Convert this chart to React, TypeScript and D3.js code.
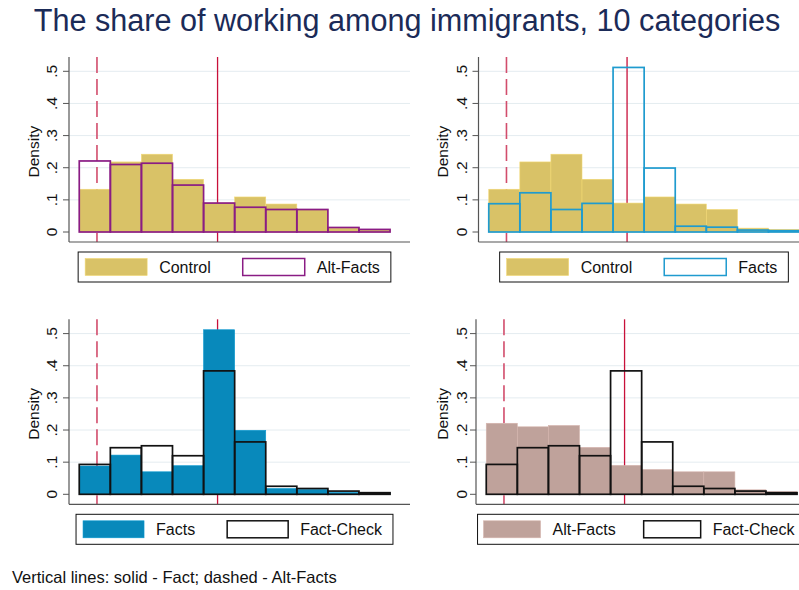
import React, { useEffect, useRef } from 'react'
import * as d3 from 'd3'

// categories 1..10, density per bin
const categories = [1, 2, 3, 4, 5, 6, 7, 8, 9, 10]
const control = [0.133, 0.218, 0.242, 0.164, 0.09, 0.109, 0.087, 0.07, 0.012, 0.008]
const altFacts = [0.221, 0.21, 0.214, 0.146, 0.09, 0.077, 0.07, 0.07, 0.014, 0.008]
const facts = [0.088, 0.122, 0.07, 0.089, 0.512, 0.199, 0.018, 0.015, 0.006, 0.004]
const factCheck = [0.093, 0.145, 0.151, 0.12, 0.384, 0.163, 0.025, 0.018, 0.01, 0.005]

const yTicks = [0, 0.1, 0.2, 0.3, 0.4, 0.5]
const yTickLabels = ['0', '.1', '.2', '.3', '.4', '.5']

const factLine = 4.95
const altFactLine = 1.07

const FONT = '"Liberation Sans", Arial, Helvetica, sans-serif'

const colors = {
  gold: '#d9c267',
  purple: '#8a1c84',
  blueLine: '#1f9bcf',
  blueFill: '#0889bb',
  brown: '#bfa29b',
  black: '#111111',
  red: '#c8103a',
  redDash: '#d24d6c',
  grid: '#e4ecf0',
  axis: '#555555',
}

interface PanelSpec {
  ax: number
  y0: number
  fillValues: number[]
  fillColor: string
  fillName: string
  lineValues: number[]
  lineColor: string
  lineName: string
  labelX: number
  sw: number // legend swatch width
  midGap: number // gap between legend keys
  pad: number
}

const panels: PanelSpec[] = [
  { ax: 69, y0: 232, fillValues: control, fillColor: colors.gold, fillName: 'Control', lineValues: altFacts, lineColor: colors.purple, lineName: 'Alt-Facts', labelX: 69, sw: 62, midGap: 32, pad: 7 },
  { ax: 478.5, y0: 232, fillValues: control, fillColor: colors.gold, fillName: 'Control', lineValues: facts, lineColor: colors.blueLine, lineName: 'Facts', labelX: 478.5, sw: 62, midGap: 32, pad: 7 },
  { ax: 69, y0: 494.3, fillValues: facts, fillColor: colors.blueFill, fillName: 'Facts', lineValues: factCheck, lineColor: colors.black, lineName: 'Fact-Check', labelX: 69, sw: 61, midGap: 32, pad: 7 },
  { ax: 476, y0: 494.3, fillValues: altFacts, fillColor: colors.brown, fillName: 'Alt-Facts', lineValues: factCheck, lineColor: colors.black, lineName: 'Fact-Check', labelX: 478.5, sw: 57, midGap: 28, pad: 6 },
]

export default function App() {
  const svgRef = useRef<SVGSVGElement>(null)

  useEffect(() => {
    if (!svgRef.current) return
    const svg = d3.select(svgRef.current)
    svg.selectAll('*').remove()

    svg.append('rect').attr('width', 799).attr('height', 590).attr('fill', '#fff')

    // Title
    svg.append('text')
      .attr('x', 407)
      .attr('y', 31)
      .attr('text-anchor', 'middle')
      .attr('fill', '#1b2b58')
      .style('font-family', FONT)
      .style('font-size', '30.6px')
      .text('The share of working among immigrants, 10 categories')

    const plotW = 331

    panels.forEach((p) => {
      const g = svg.append('g')
      const x = d3.scaleLinear().domain([0.17, 10.82]).range([p.ax, p.ax + plotW])
      const y = d3.scaleLinear().domain([0, 0.5]).range([p.y0, p.y0 - 160.7])
      const top = p.y0 - 175
      const bottom = p.y0 + 10

      // grid
      g.selectAll('line.grid')
        .data(yTicks.slice(1))
        .join('line')
        .attr('x1', p.ax)
        .attr('x2', p.ax + plotW + 10)
        .attr('y1', (d) => y(d))
        .attr('y2', (d) => y(d))
        .attr('stroke', colors.grid)
        .attr('stroke-width', 1)

      // vertical reference lines (drawn below bars)
      g.append('line')
        .attr('x1', x(altFactLine)).attr('x2', x(altFactLine))
        .attr('y1', top).attr('y2', bottom)
        .attr('stroke', colors.redDash)
        .attr('stroke-width', 1.6)
        .attr('stroke-dasharray', '16,6')
      g.append('line')
        .attr('x1', x(factLine)).attr('x2', x(factLine))
        .attr('y1', top).attr('y2', bottom)
        .attr('stroke', colors.red)
        .attr('stroke-width', 1.3)

      // filled histogram
      g.selectAll('rect.fill')
        .data(categories)
        .join('rect')
        .attr('x', (c) => x(c - 0.5))
        .attr('width', (c) => x(c + 0.5) - x(c - 0.5))
        .attr('y', (c, i) => y(p.fillValues[i]))
        .attr('height', (c, i) => y(0) - y(p.fillValues[i]))
        .attr('fill', p.fillColor)
        .attr('stroke', d3.color(p.fillColor)!.brighter(0.3).toString())
        .attr('stroke-width', 0.6)

      // outline histogram
      g.selectAll('rect.outline')
        .data(categories)
        .join('rect')
        .attr('x', (c) => x(c - 0.5))
        .attr('width', (c) => x(c + 0.5) - x(c - 0.5))
        .attr('y', (c, i) => y(p.lineValues[i]))
        .attr('height', (c, i) => y(0) - y(p.lineValues[i]))
        .attr('fill', 'none')
        .attr('stroke', p.lineColor)
        .attr('stroke-width', 1.7)

      // axes
      g.append('line')
        .attr('x1', p.ax).attr('x2', p.ax)
        .attr('y1', top).attr('y2', bottom)
        .attr('stroke', colors.axis).attr('stroke-width', 1.2)
      g.append('line')
        .attr('x1', p.ax).attr('x2', p.ax + plotW + 10)
        .attr('y1', bottom).attr('y2', bottom)
        .attr('stroke', colors.axis).attr('stroke-width', 1.2)

      g.selectAll('line.tick')
        .data(yTicks)
        .join('line')
        .attr('x1', p.ax - 6).attr('x2', p.ax)
        .attr('y1', (d) => y(d)).attr('y2', (d) => y(d))
        .attr('stroke', colors.axis).attr('stroke-width', 1)

      g.selectAll('text.tick')
        .data(yTicks)
        .join('text')
        .attr('transform', (d) => `translate(${p.labelX - 12},${y(d)}) rotate(-90)`)
        .attr('text-anchor', 'middle')
        .attr('fill', '#111')
        .style('font-family', FONT)
        .style('font-size', '15.5px')
        .text((d, i) => yTickLabels[i])

      g.append('text')
        .attr('transform', `translate(${p.labelX - 30.5},${y(0.25)}) rotate(-90)`)
        .attr('text-anchor', 'middle')
        .attr('fill', '#111')
        .style('font-family', FONT)
        .style('font-size', '15.5px')
        .text('Density')

      // legend
      const lg = svg.append('g')
      const ly = p.y0 + 20
      const lh = 30
      const sw = p.sw
      const sh = 17
      const t1 = lg.append('text')
        .style('font-family', FONT).style('font-size', '16px').attr('fill', '#111')
        .text(p.fillName)
      const t2 = lg.append('text')
        .style('font-family', FONT).style('font-size', '16px').attr('fill', '#111')
        .text(p.lineName)
      const w1 = (t1.node() as SVGTextElement).getComputedTextLength()
      const w2 = (t2.node() as SVGTextElement).getComputedTextLength()
      const total = p.pad + sw + 12 + w1 + p.midGap + sw + 12 + w2 + 11
      const lx = p.ax + plotW / 2 - total / 2
      lg.insert('rect', 'text')
        .attr('x', lx).attr('y', ly).attr('width', total).attr('height', lh)
        .attr('fill', '#fff').attr('stroke', '#111').attr('stroke-width', 1)
      const s1x = lx + p.pad
      lg.append('rect')
        .attr('x', s1x).attr('y', ly + (lh - sh) / 2).attr('width', sw).attr('height', sh)
        .attr('fill', p.fillColor)
        .attr('stroke', d3.color(p.fillColor)!.brighter(0.3).toString()).attr('stroke-width', 0.6)
      t1.attr('x', s1x + sw + 12).attr('y', ly + lh / 2 + 5.5)
      const s2x = s1x + sw + 12 + w1 + p.midGap
      lg.append('rect')
        .attr('x', s2x).attr('y', ly + (lh - sh) / 2).attr('width', sw).attr('height', sh)
        .attr('fill', '#fff')
        .attr('stroke', p.lineColor).attr('stroke-width', 1.5)
      t2.attr('x', s2x + sw + 12).attr('y', ly + lh / 2 + 5.5)
    })

    // footnote
    svg.append('text')
      .attr('x', 12)
      .attr('y', 583)
      .attr('fill', '#111')
      .style('font-family', FONT)
      .style('font-size', '16.5px')
      .text('Vertical lines: solid - Fact; dashed - Alt-Facts')
  }, [])

  return (
    <svg
      ref={svgRef}
      width={799}
      height={590}
      style={{ position: 'absolute', left: 0, top: 0, display: 'block' }}
    />
  )
}
